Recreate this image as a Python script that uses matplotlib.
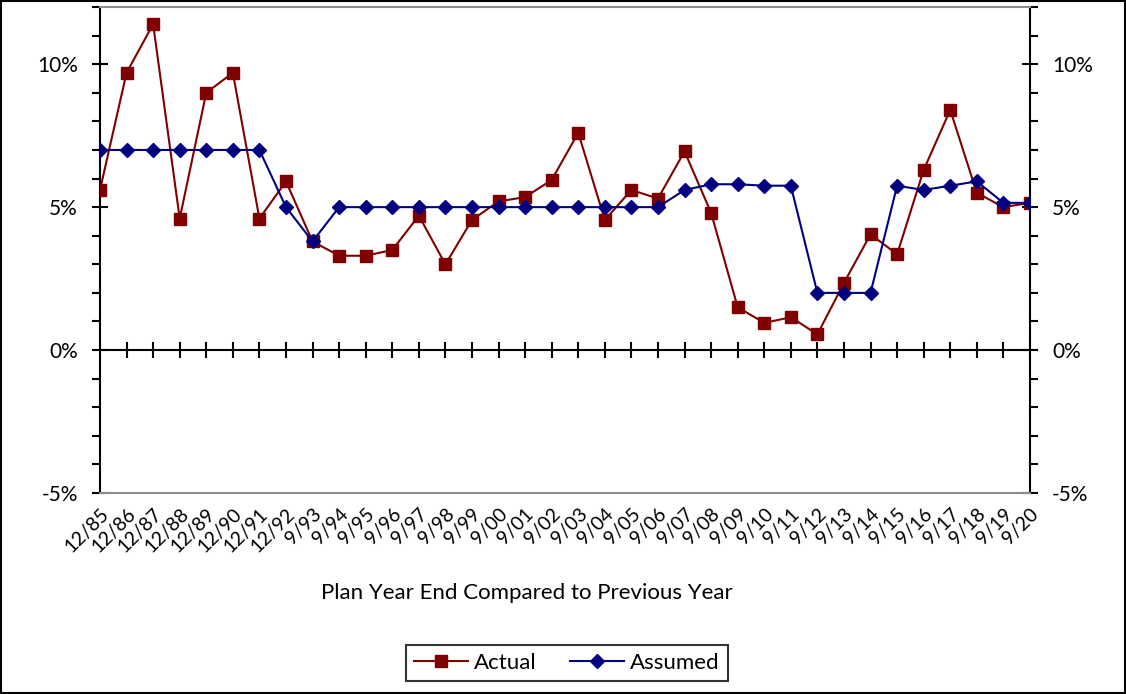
import numpy as np
import matplotlib
matplotlib.use("Agg")
import matplotlib.pyplot as plt
from matplotlib.patches import Rectangle
from matplotlib.ticker import MultipleLocator, FuncFormatter

plt.rcParams['font.family'] = ['Lato', 'DejaVu Sans']

# plan year ends
periods = ["12/85", "12/86", "12/87", "12/88", "12/89", "12/90", "12/91", "12/92",
           "9/93", "9/94", "9/95", "9/96", "9/97", "9/98", "9/99", "9/00",
           "9/01", "9/02", "9/03", "9/04", "9/05", "9/06", "9/07", "9/08",
           "9/09", "9/10", "9/11", "9/12", "9/13", "9/14", "9/15", "9/16",
           "9/17", "9/18", "9/19", "9/20"]

# year-over-year change, percent
actual = [5.6, 9.7, 11.4, 4.6, 9.0, 9.7, 4.6, 5.9,
          3.8, 3.3, 3.3, 3.5, 4.7, 3.0, 4.55, 5.2,
          5.35, 5.95, 7.6, 4.55, 5.6, 5.3, 6.95, 4.8,
          1.5, 0.95, 1.15, 0.55, 2.35, 4.05, 3.35, 6.3,
          8.4, 5.5, 5.0, 5.15]
assumed = [7.0, 7.0, 7.0, 7.0, 7.0, 7.0, 7.0, 5.0,
           3.8, 5.0, 5.0, 5.0, 5.0, 5.0, 5.0, 5.0,
           5.0, 5.0, 5.0, 5.0, 5.0, 5.0, 5.6, 5.8,
           5.8, 5.75, 5.75, 2.0, 2.0, 2.0, 5.75, 5.6,
           5.75, 5.9, 5.15, 5.15]

red = "#800000"
blue = "#000080"

x = np.arange(len(periods))

fig = plt.figure(figsize=(11.26, 6.94), dpi=100)
ax = fig.add_axes([0.0888, 0.2896, 0.8259, 0.7003])

ax.plot(x, actual, color=red, lw=1.5, marker="s", ms=9, label="Actual", zorder=3)
ax.plot(x, assumed, color=blue, lw=1.5, marker="D", ms=7, label="Assumed", zorder=4)

ax.set_xlim(0, len(periods) - 1)
ax.set_ylim(-5, 12)

# zero line with a tick at every period
ax.axhline(0, color="black", lw=1.5, zorder=2)
ax.plot(x, np.zeros(len(x)), ls="none", marker="|", ms=12, mew=1.5, color="black", zorder=2)

for side in ("top", "bottom"):
    ax.spines[side].set_color("#8c8c8c")
    ax.spines[side].set_linewidth(1.5)
for side in ("left", "right"):
    ax.spines[side].set_color("black")
    ax.spines[side].set_linewidth(1.5)

pct = FuncFormatter(lambda v, p: f"{v:.0f}%")
ax.yaxis.set_major_locator(MultipleLocator(5))
ax.yaxis.set_minor_locator(MultipleLocator(1))
ax.yaxis.set_major_formatter(pct)
ax.tick_params(axis="y", which="major", direction="inout", length=12, width=1.5,
               left=True, right=True, labelleft=True, labelright=True,
               labelsize=15, pad=10)
ax.tick_params(axis="y", which="minor", direction="out", length=6, width=1.5,
               left=True, right=True)

ax.set_xticks(x)
ax.set_xticklabels(periods, rotation=45, ha="right", rotation_mode="anchor")
ax.tick_params(axis="x", length=0, labelsize=14, pad=9)

fig.text(0.468, 0.145, "Plan Year End Compared to Previous Year",
         ha="center", va="center", fontsize=16)

leg = fig.legend(loc="center", bbox_to_anchor=(0.5036, 0.0447), ncol=2,
                 fontsize=16, frameon=True, fancybox=False, handlelength=2.4,
                 columnspacing=1.5, handletextpad=0.3, borderpad=0.35)
leg.get_frame().set_edgecolor("black")
leg.get_frame().set_linewidth(1.5)

fig.patches.append(Rectangle((0.001, 0.001), 0.998, 0.998, transform=fig.transFigure,
                             fill=False, edgecolor="black", lw=1.5))

fig.savefig("out.png", dpi=100)
